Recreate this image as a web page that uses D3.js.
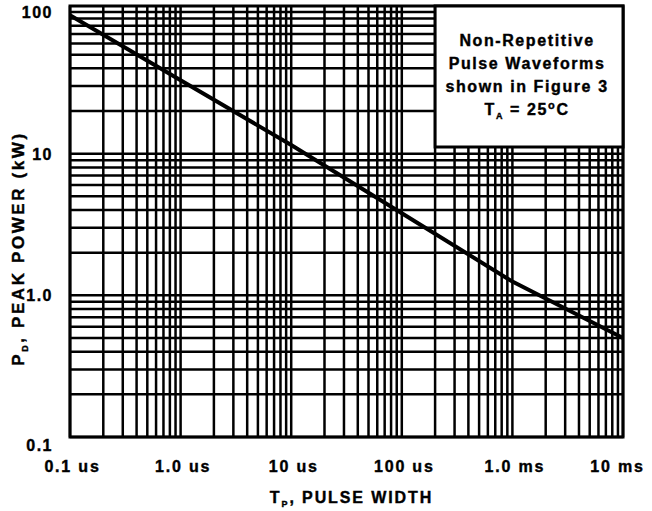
<!DOCTYPE html>
<html>
<head>
<meta charset="utf-8">
<script src="https://cdn.jsdelivr.net/npm/d3@7"></script>
<style>
  body { margin: 0; background: #fff; }
  text { font-family: "Liberation Sans", Arial, sans-serif; font-weight: bold; fill: #000; stroke: #000; stroke-width: 0.4px; }
</style>
</head>
<body>
<div id="chart"></div>
<script>
// pulse width in microseconds, peak power in kW
var pulseWidth = [0.1, 1, 10, 100, 1000, 10000];
var peakPower = [95, 33, 11.5, 3.8, 1.25, 0.5];

var xTicks = [0.1, 1, 10, 100, 1000, 10000];
var xTickLabels = ["0.1 us", "1.0 us", "10 us", "100 us", "1.0 ms", "10 ms"];
var yTicks = [0.1, 1, 10, 100];
var yTickLabels = ["0.1", "1.0", "10", "100"];
var noteLines = ["Non-Repetitive", "Pulse Waveforms", "shown in Figure 3"];

var margin = {top: 12, right: 29, bottom: 74, left: 70},
    width = 652 - margin.left - margin.right,
    height = 511 - margin.top - margin.bottom;

var x = d3.scaleLog().domain([0.1, 10000]).range([0, width]);
var y = d3.scaleLog().domain([0.1, 100]).range([height, 0]);

var svg = d3.select("#chart").append("svg")
  .attr("width", 652)
  .attr("height", 511)
  .append("g")
  .attr("transform", "translate(" + margin.left + "," + margin.top + ")");

// grid: 1..9 in each decade
var xGrid = [], yGrid = [];
for (var d = -1; d < 4; d++) {
  for (var k = 1; k < 10; k++) xGrid.push(k * Math.pow(10, d));
}
xGrid.push(10000);
for (var d = -1; d < 2; d++) {
  for (var k = 1; k < 10; k++) yGrid.push(k * Math.pow(10, d));
}
yGrid.push(100);

svg.append("g").attr("class", "grid")
  .selectAll("line.v").data(xGrid).enter().append("line")
  .attr("x1", d => x(d)).attr("x2", d => x(d))
  .attr("y1", -6).attr("y2", height)
  .attr("stroke", "#000")
  .attr("stroke-width", 2.5);

svg.append("g").attr("class", "grid")
  .selectAll("line.h").data(yGrid).enter().append("line")
  .attr("x1", 0).attr("x2", width)
  .attr("y1", d => y(d)).attr("y2", d => y(d))
  .attr("stroke", "#000")
  .attr("stroke-width", 2.5);

// frame
svg.append("rect")
  .attr("x", 0).attr("y", -6)
  .attr("width", width).attr("height", height + 6)
  .attr("fill", "none")
  .attr("stroke", "#000")
  .attr("stroke-width", 3);

// note box
var box = svg.append("g");
box.append("rect")
  .attr("x", x(200)).attr("y", -6)
  .attr("width", width - x(200)).attr("height", 141)
  .attr("fill", "#fff")
  .attr("stroke", "#000")
  .attr("stroke-width", 3);

var cx = (x(200) + width) / 2 - 2;
box.selectAll("text.note").data(noteLines).enter().append("text")
  .attr("x", cx)
  .attr("y", (d, i) => 34 + i * 23)
  .attr("text-anchor", "middle")
  .style("font-size", "16px")
  .style("letter-spacing", "1.6px")
  .text(d => d);

var ta = box.append("text")
  .attr("x", cx)
  .attr("y", 34 + 3 * 23)
  .attr("text-anchor", "middle")
  .style("font-size", "16px")
  .style("letter-spacing", "1.6px");
ta.append("tspan").text("T");
ta.append("tspan").attr("dy", 4).style("font-size", "9px").text("A");
ta.append("tspan").attr("dy", -4).text(" = 25");
ta.append("tspan").attr("dy", -6).style("font-size", "11px").text("o");
ta.append("tspan").attr("dy", 6).text("C");

// curve
var line = d3.line()
  .x(d => x(d[0]))
  .y(d => y(d[1]));

svg.append("path")
  .datum(d3.zip(pulseWidth, peakPower))
  .attr("d", line)
  .attr("fill", "none")
  .attr("stroke", "#000")
  .attr("stroke-width", 4);

// axes
var xAxis = d3.axisBottom(x)
  .tickValues(xTicks)
  .tickFormat((d, i) => xTickLabels[i])
  .tickSize(0)
  .tickPadding(24);

var gx = svg.append("g")
  .attr("transform", "translate(0," + height + ")")
  .call(xAxis);
gx.select(".domain").remove();
gx.selectAll("text")
  .style("font-size", "16px")
  .style("letter-spacing", "1.8px")
  .style("font-family", "'Liberation Sans', Arial, sans-serif")
  .attr("dx", (d, i) => i == xTicks.length - 1 ? -6 : 2);

var yAxis = d3.axisLeft(y)
  .tickValues(yTicks)
  .tickFormat((d, i) => yTickLabels[i])
  .tickSize(0)
  .tickPadding(17);

var gy = svg.append("g").call(yAxis);
gy.select(".domain").remove();
gy.selectAll("text")
  .style("font-size", "16px")
  .style("letter-spacing", "1.5px")
  .style("font-family", "'Liberation Sans', Arial, sans-serif")
  .attr("dy", d => d == 0.1 ? "0.85em" : "0.35em");

// axis titles
var xt = svg.append("text")
  .attr("x", width / 2 + 5)
  .attr("y", height + 66)
  .attr("text-anchor", "middle")
  .style("font-size", "16px")
  .style("letter-spacing", "1.9px");
xt.append("tspan").text("T");
xt.append("tspan").attr("dy", 4).style("font-size", "9px").text("P");
xt.append("tspan").attr("dy", -4).text(", PULSE WIDTH");

var yt = svg.append("text")
  .attr("transform", "translate(" + (-46) + "," + (height / 2 + 24) + ") rotate(-90)")
  .attr("text-anchor", "middle")
  .style("font-size", "17px")
  .style("letter-spacing", "2.6px");
yt.append("tspan").text("P");
yt.append("tspan").attr("dy", 4).style("font-size", "9px").text("D");
yt.append("tspan").attr("dy", -4).text(", PEAK POWER (kW)");
</script>
</body>
</html>
